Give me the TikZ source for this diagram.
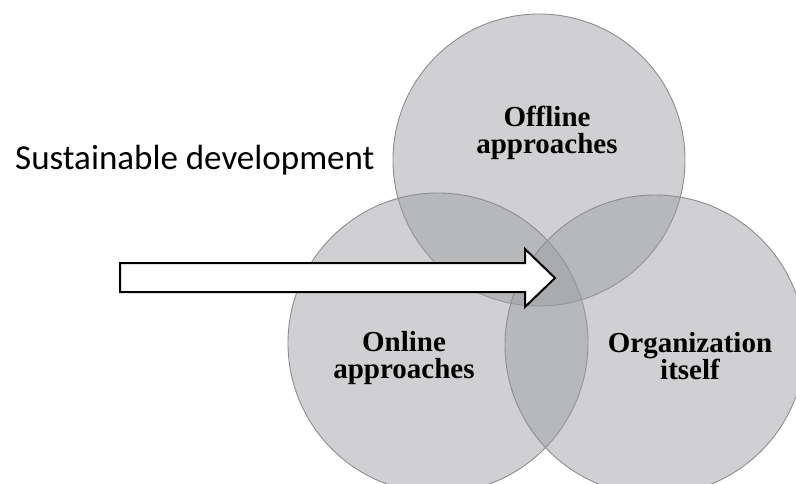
\documentclass[tikz,border=0pt]{standalone}
\usepackage{fontspec}
\setmainfont{Liberation Serif}
\newfontfamily\labelsans{Carlito}
\begin{document}
\begin{tikzpicture}[x=1pt,y=-1pt,
  setdisc/.style={fill={rgb,255:red,155;green,156;blue,160}, fill opacity=0.47,
    draw={rgb,255:red,140;green,141;blue,144}, line width=0.9pt},
  setlabel/.style={font=\bfseries\fontsize{29}{27}\selectfont, align=center, inner sep=0pt},
  bigarrow/.style={fill=white, draw=black, line width=2pt, line join=miter}]
  \useasboundingbox (0,0) rectangle (796,484);
  \begin{scope}
    \clip (0,0) rectangle (796,484);
    % three overlapping sets
    \path[setdisc] (539,160) circle (146);
    \path[setdisc] (438,343) circle (150);
    \path[setdisc] (655,345) circle (150);
  \end{scope}
  % set labels
  \node[setlabel] (offline) at (547,133) {Offline\\approaches};
  \node[setlabel] (online) at (404,358.5) {Online\\approaches};
  \node[setlabel] (org) at (690,356) {Organization\\itself};
  % title
  \node[font=\labelsans\fontsize{35}{40}\selectfont, anchor=base west, inner sep=0pt] (title) at (15,170) {Sustainable development};
  % block arrow pointing into the common area
  \coordinate (tail) at (120,277.5);
  \coordinate (tip) at (555,278);
  \draw[bigarrow] (tail) ++(0,-14.5) -- (525,263) -- (525,249) -- (tip) -- (525,307) -- (525,292) -- (120,292) -- cycle;
\end{tikzpicture}
\end{document}
